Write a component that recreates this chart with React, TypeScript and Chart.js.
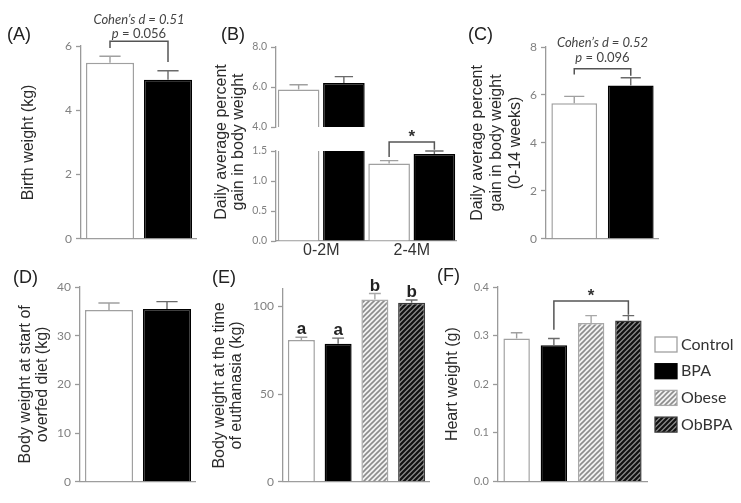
import React, { useEffect, useRef } from "react";
import { Chart, registerables } from "chart.js";
Chart.register(...registerables);

// ---------- data ----------
const GROUPS_2 = ["Control", "BPA"];
const GROUPS_4 = ["Control", "BPA", "Obese", "ObBPA"];
const PERIODS = ["0-2M", "2-4M"];

const birthWeight = [5.48, 4.95];
const birthWeightSem = [0.2, 0.28];
const ticksA = [0, 2, 4, 6];

const gainControl = [5.88, 1.29];
const gainControlSem = [0.23, 0.05];
const gainBPA = [6.2, 1.45];
const gainBPASem = [0.32, 0.05];
const ticksBUpper = [4, 6, 8];
const ticksBLower = [0, 0.5, 1.0, 1.5];

const gain14wk = [5.65, 6.39];
const gain14wkSem = [0.29, 0.33];
const ticksC = [0, 2, 4, 6, 8];

const startWeight = [35.3, 35.5];
const startWeightSem = [1.4, 1.5];
const ticksD = [0, 10, 20, 30, 40];

const euthWeight = [80.9, 78.7, 104.0, 102.2];
const euthWeightSem = [1.6, 3.3, 3.4, 1.5];
const euthLetters = ["a", "a", "b", "b"];
const ticksE = [0, 50, 100];
const maxE = 110;

const heartWeight = [0.294, 0.28, 0.326, 0.331];
const heartWeightSem = [0.012, 0.014, 0.015, 0.01];
const ticksF = [0, 0.1, 0.2, 0.3, 0.4];

// ---------- styles ----------
const SANS = "'Liberation Sans', Arial, sans-serif";
const TICKF = "Lato, 'Open Sans', sans-serif";
const AXIS = "#9a9a9a";
const TICKC = "#808080";
const TITLEC = "#2a2a2a";
const WHITE_BORDER = "#a0a0a0";

function hatch(bg: string, fg: string, lw: number, s = 5) {
  const c = document.createElement("canvas");
  c.width = s;
  c.height = s;
  const g = c.getContext("2d")!;
  g.fillStyle = bg;
  g.fillRect(0, 0, s, s);
  g.strokeStyle = fg;
  g.lineWidth = lw;
  g.beginPath();
  g.moveTo(0, s);
  g.lineTo(s, 0);
  g.moveTo(-s, s);
  g.lineTo(s, -s);
  g.moveTo(0, 2 * s);
  g.lineTo(2 * s, 0);
  g.stroke();
  return g.createPattern(c, "repeat")!;
}

type Part = { t: string; italic?: boolean; bold?: boolean };
type Note = { parts: Part[]; y: number; size: number; family: string; color: string };
type Bracket = { a: [number, number]; b: [number, number]; top: number; endA: number; endB: number; notes?: Note[] };
type LegendItem = { label: string; fill: any; stroke: string };

function drawParts(ctx: CanvasRenderingContext2D, n: Note, cx: number, cy: number) {
  const fontOf = (p: Part) => `${p.italic ? "italic " : ""}${p.bold ? "bold " : ""}${n.size}px ${n.family}`;
  let total = 0;
  const widths = n.parts.map((p) => {
    ctx.font = fontOf(p);
    const w = ctx.measureText(p.t).width;
    total += w;
    return w;
  });
  let x = cx - total / 2;
  ctx.fillStyle = n.color;
  ctx.textBaseline = "middle";
  ctx.textAlign = "left";
  n.parts.forEach((p, i) => {
    ctx.font = fontOf(p);
    ctx.fillText(p.t, x, cy);
    x += widths[i];
  });
}

function decorPlugin(d: { brackets?: Bracket[]; letters?: string[]; legend?: LegendItem[] }) {
  return {
    id: "decor",
    afterDatasetsDraw(chart: any) {
      const ctx: CanvasRenderingContext2D = chart.ctx;
      const ys = chart.scales.y;
      ctx.save();
      // error bars (upper SEM)
      chart.data.datasets.forEach((ds: any, di: number) => {
        if (!ds.sem) return;
        const meta = chart.getDatasetMeta(di);
        meta.data.forEach((el: any, i: number) => {
          const v = ds.data[i];
          const e = ds.sem[i];
          if (v == null || e == null || v > ys.max || v < ys.min) return;
          const y0 = ys.getPixelForValue(v);
          const y1 = ys.getPixelForValue(v + e);
          const half = el.width * 0.22;
          ctx.strokeStyle = Array.isArray(ds.semColor) ? ds.semColor[i] : ds.semColor;
          ctx.lineWidth = 1.4;
          ctx.beginPath();
          ctx.moveTo(el.x, y0);
          ctx.lineTo(el.x, y1);
          ctx.moveTo(el.x - half, y1);
          ctx.lineTo(el.x + half, y1);
          ctx.stroke();
        });
      });
      // brackets and notes
      (d.brackets || []).forEach((b) => {
        const ea = chart.getDatasetMeta(b.a[0]).data[b.a[1]];
        const eb = chart.getDatasetMeta(b.b[0]).data[b.b[1]];
        const yt = ys.getPixelForValue(b.top);
        const ya = ys.getPixelForValue(b.endA);
        const yb = ys.getPixelForValue(b.endB);
        ctx.strokeStyle = "#555";
        ctx.lineWidth = 1.5;
        ctx.beginPath();
        ctx.moveTo(ea.x, ya);
        ctx.lineTo(ea.x, yt);
        ctx.lineTo(eb.x, yt);
        ctx.lineTo(eb.x, yb);
        ctx.stroke();
        const cx = (ea.x + eb.x) / 2;
        (b.notes || []).forEach((n) => drawParts(ctx, n, cx, ys.getPixelForValue(n.y)));
      });
      // letters above error bars
      if (d.letters) {
        const ds = chart.data.datasets[0];
        const meta = chart.getDatasetMeta(0);
        ctx.font = `bold 17px ${SANS}`;
        ctx.fillStyle = "#222";
        ctx.textAlign = "center";
        ctx.textBaseline = "alphabetic";
        meta.data.forEach((el: any, i: number) => {
          const top = ys.getPixelForValue(ds.data[i] + (ds.sem ? ds.sem[i] : 0));
          ctx.fillText(d.letters![i], el.x, top - 3);
        });
      }
      // legend
      if (d.legend) {
        const area = chart.chartArea;
        d.legend.forEach((it, i) => {
          const x = area.right + 8;
          const cy = area.top + 57.5 + i * 26.7;
          ctx.fillStyle = it.fill;
          ctx.fillRect(x, cy - 7.5, 22, 15);
          ctx.strokeStyle = it.stroke;
          ctx.lineWidth = 1.3;
          ctx.strokeRect(x, cy - 7.5, 22, 15);
          ctx.font = `16px ${TICKF}`;
          ctx.fillStyle = "#333";
          ctx.textAlign = "left";
          ctx.textBaseline = "middle";
          ctx.fillText(it.label, x + 26, cy);
        });
      }
      ctx.restore();
    },
  };
}

function baseConfig(o: {
  labels: string[];
  datasets: any[];
  ticks: number[];
  min: number;
  max: number;
  fmt: (v: number) => string;
  tickSize: number;
  title?: string | string[];
  titlePad?: number;
  titleLH?: number;
  pad: { top: number; right?: number; bottom?: number };
  yWidth: number;
  xHeight?: number;
  xDisplay?: boolean;
  xLabels?: boolean;
  cat: number;
  bar: number;
  plugin: any;
}): any {
  return {
    type: "bar",
    data: { labels: o.labels, datasets: o.datasets },
    options: {
      responsive: false,
      animation: false,
      events: [],
      layout: { padding: { top: o.pad.top, right: o.pad.right ?? 0, bottom: o.pad.bottom ?? 0, left: 0 } },
      plugins: { legend: { display: false }, tooltip: { enabled: false } },
      datasets: { bar: { categoryPercentage: o.cat, barPercentage: o.bar } },
      scales: {
        x: {
          display: o.xDisplay !== false,
          border: { color: AXIS, width: 1.3 },
          grid: { display: false, drawTicks: false },
          ticks: { display: !!o.xLabels, font: { family: SANS, size: 16 }, color: "#333", padding: 0 },
          afterFit: (s: any) => {
            s.height = o.xHeight ?? 9;
          },
        },
        y: {
          min: o.min,
          max: o.max,
          afterBuildTicks: (s: any) => {
            s.ticks = o.ticks.map((v) => ({ value: v }));
          },
          border: { color: AXIS, width: 1.3 },
          grid: { drawOnChartArea: false, color: AXIS, tickLength: 5, tickWidth: 1.3 },
          ticks: {
            font: { family: TICKF, size: o.tickSize },
            color: TICKC,
            padding: 4,
            callback: (v: any) => o.fmt(Number(v)),
          },
          title: o.title
            ? {
                display: true,
                text: o.title,
                font: { family: SANS, size: 16, lineHeight: o.titleLH ?? 1.1 },
                color: TITLEC,
                padding: { top: o.titlePad ?? 0, bottom: 0 },
              }
            : { display: false },
          afterFit: (s: any) => {
            s.width = o.yWidth;
          },
        },
      },
    },
    plugins: [o.plugin],
  };
}

const intFmt = (v: number) => String(Math.round(v));
const oneDec = (v: number) => v.toFixed(1);
const noteSmall = (parts: Part[], y: number): Note => ({ parts, y, size: 13, family: TICKF, color: "#444" });
const star = (y: number): Note => ({ parts: [{ t: "*", bold: true }], y, size: 17, family: SANS, color: "#333" });

const CANVASES = [
  { left: 0, top: 0, w: 197, h: 250 }, // A
  { left: 200, top: 0, w: 257, h: 145 }, // B upper
  { left: 200, top: 100, w: 257, h: 160 }, // B lower
  { left: 460, top: 0, w: 199, h: 250 }, // C
  { left: 0, top: 250, w: 196, h: 243 }, // D
  { left: 200, top: 250, w: 230, h: 243 }, // E
  { left: 440, top: 250, w: 301, h: 242 }, // F
];

const PANEL_LABELS = [
  { t: "(A)", left: 7, top: 24 },
  { t: "(B)", left: 221, top: 24 },
  { t: "(C)", left: 468, top: 24 },
  { t: "(D)", left: 13, top: 267 },
  { t: "(E)", left: 212, top: 267 },
  { t: "(F)", left: 437, top: 265 },
];

export default function App() {
  const refs = useRef<(HTMLCanvasElement | null)[]>([]);

  useEffect(() => {
    const obese = hatch("#f2f2f2", "#8c8c8c", 1.6);
    const obbpa = hatch("#8a8a8a", "#111111", 2.2);
    const fill2 = ["#ffffff", "#000000"];
    const border2 = [WHITE_BORDER, "#000000"];
    const semColor2 = [WHITE_BORDER, "#6a6a6a"];
    const fill4 = ["#ffffff", "#000000", obese, obbpa];
    const border4 = [WHITE_BORDER, "#000000", "#a8a8a8", "#3a3a3a"];
    const semColor4 = [WHITE_BORDER, "#6a6a6a", "#a8a8a8", "#6a6a6a"];

    const ds2 = (data: number[], sem: number[]) => ({
      data,
      sem,
      semColor: semColor2,
      backgroundColor: fill2,
      borderColor: border2,
      borderWidth: 1.5,
    });
    const ds4 = (data: number[], sem: number[]) => ({
      data,
      sem,
      semColor: semColor4,
      backgroundColor: fill4,
      borderColor: border4,
      borderWidth: 1.5,
    });

    const upperMin = ticksBUpper[0];
    const onlyAbove = (arr: number[]) => arr.map((v) => (v > upperMin ? v : null));

    const configs = [
      // A
      baseConfig({
        labels: GROUPS_2,
        datasets: [ds2(birthWeight, birthWeightSem)],
        ticks: ticksA,
        min: 0,
        max: 6,
        fmt: intFmt,
        tickSize: 12,
        title: "Birth weight (kg)",
        titlePad: 19.7,
        pad: { top: 46 },
        yWidth: 81,
        cat: 1,
        bar: 0.83,
        plugin: decorPlugin({
          brackets: [
            {
              a: [0, 0],
              b: [0, 1],
              top: 6.15,
              endA: 5.94,
              endB: 5.5,
              notes: [
                noteSmall([{ t: "Cohen’s d = 0.51", italic: true }], 6.8),
                noteSmall([{ t: "p", italic: true }, { t: " = 0.056" }], 6.37),
              ],
            },
          ],
        }),
      }),
      // B upper
      baseConfig({
        labels: PERIODS,
        datasets: [
          {
            data: onlyAbove(gainControl),
            sem: gainControlSem,
            semColor: WHITE_BORDER,
            backgroundColor: "#ffffff",
            borderColor: WHITE_BORDER,
            borderWidth: 1.5,
            clip: 0,
          },
          {
            data: onlyAbove(gainBPA),
            sem: gainBPASem,
            semColor: "#6a6a6a",
            backgroundColor: "#000000",
            borderColor: "#000000",
            borderWidth: 1.5,
            clip: 0,
          },
        ],
        ticks: ticksBUpper,
        min: 4,
        max: 8,
        fmt: oneDec,
        tickSize: 10.5,
        pad: { top: 47, bottom: 9 },
        yWidth: 76,
        xDisplay: false,
        cat: 1,
        bar: 0.92,
        plugin: decorPlugin({}),
      }),
      // B lower
      baseConfig({
        labels: PERIODS,
        datasets: [
          {
            data: gainControl,
            sem: gainControlSem,
            semColor: WHITE_BORDER,
            backgroundColor: "#ffffff",
            borderColor: WHITE_BORDER,
            borderWidth: 1.5,
            clip: 0,
          },
          {
            data: gainBPA,
            sem: gainBPASem,
            semColor: "#6a6a6a",
            backgroundColor: "#000000",
            borderColor: "#000000",
            borderWidth: 1.5,
            clip: 0,
          },
        ],
        ticks: ticksBLower,
        min: 0,
        max: 1.5,
        fmt: oneDec,
        tickSize: 10.5,
        pad: { top: 51 },
        yWidth: 76,
        xHeight: 19,
        xLabels: true,
        cat: 1,
        bar: 0.92,
        plugin: decorPlugin({
          brackets: [{ a: [0, 1], b: [1, 1], top: 1.65, endA: 1.4, endB: 1.52, notes: [star(1.72)] }],
        }),
      }),
      // C
      baseConfig({
        labels: GROUPS_2,
        datasets: [ds2(gain14wk, gain14wkSem)],
        ticks: ticksC,
        min: 0,
        max: 8,
        fmt: intFmt,
        tickSize: 12,
        title: ["Daily average percent", "gain in body weight", "(0-14 weeks)"],
        titlePad: 7.9,
        titleLH: 1.2,
        pad: { top: 47 },
        yWidth: 86,
        cat: 1,
        bar: 0.81,
        plugin: decorPlugin({
          brackets: [
            {
              a: [0, 0],
              b: [0, 1],
              top: 7.09,
              endA: 6.85,
              endB: 6.8,
              notes: [
                noteSmall([{ t: "Cohen’s d = 0.52", italic: true }], 8.16),
                noteSmall([{ t: "p", italic: true }, { t: " = 0.096" }], 7.55),
              ],
            },
          ],
        }),
      }),
      // D
      baseConfig({
        labels: GROUPS_2,
        datasets: [ds2(startWeight, startWeightSem)],
        ticks: ticksD,
        min: 0,
        max: 40,
        fmt: intFmt,
        tickSize: 12,
        title: ["Body weight at start of", "overfed diet (kg)"],
        titlePad: 17,
        titleLH: 1.06,
        pad: { top: 37 },
        yWidth: 80,
        cat: 1,
        bar: 0.83,
        plugin: decorPlugin({}),
      }),
      // E
      baseConfig({
        labels: GROUPS_4,
        datasets: [ds4(euthWeight, euthWeightSem)],
        ticks: ticksE,
        min: 0,
        max: maxE,
        fmt: intFmt,
        tickSize: 12,
        title: ["Body weight at the time", "of euthanasia (kg)"],
        titlePad: 11.5,
        titleLH: 1.04,
        pad: { top: 39 },
        yWidth: 83,
        cat: 1,
        bar: 0.735,
        plugin: decorPlugin({ letters: euthLetters }),
      }),
      // F
      baseConfig({
        labels: GROUPS_4,
        datasets: [ds4(heartWeight, heartWeightSem)],
        ticks: ticksF,
        min: 0,
        max: 0.4,
        fmt: oneDec,
        tickSize: 11,
        title: "Heart weight (g)",
        titlePad: 4.2,
        pad: { top: 37, right: 94 },
        yWidth: 58,
        cat: 1,
        bar: 0.71,
        plugin: decorPlugin({
          brackets: [{ a: [0, 1], b: [0, 3], top: 0.371, endA: 0.312, endB: 0.343, notes: [star(0.38)] }],
          legend: GROUPS_4.map((g, i) => ({ label: g, fill: fill4[i], stroke: border4[i] === "#000000" ? "#000" : border4[i] })),
        }),
      }),
    ];

    const charts = configs.map((c, i) => new Chart(refs.current[i]!, c));
    return () => charts.forEach((c) => c.destroy());
  }, []);

  return (
    <div style={{ position: "absolute", left: 0, top: 0, width: 741, height: 503, background: "#fff", overflow: "hidden" }}>
      {CANVASES.map((c, i) => (
        <canvas
          key={i}
          ref={(el) => {
            refs.current[i] = el;
          }}
          width={c.w}
          height={c.h}
          style={{ position: "absolute", left: c.left, top: c.top, width: c.w, height: c.h }}
        />
      ))}
      {PANEL_LABELS.map((p) => (
        <div
          key={p.t}
          style={{
            position: "absolute",
            left: p.left,
            top: p.top,
            fontFamily: SANS,
            fontSize: 18,
            lineHeight: "20px",
            color: "#222",
            whiteSpace: "nowrap",
          }}
        >
          {p.t}
        </div>
      ))}
      <div
        style={{
          position: "absolute",
          left: 128.5,
          top: 125,
          width: 200,
          height: 34,
          transform: "rotate(-90deg)",
          transformOrigin: "center",
          textAlign: "center",
          fontFamily: SANS,
          fontSize: 16,
          lineHeight: "17px",
          color: TITLEC,
          whiteSpace: "nowrap",
        }}
      >
        <div>Daily average percent</div>
        <div>gain in body weight</div>
      </div>
    </div>
  );
}
